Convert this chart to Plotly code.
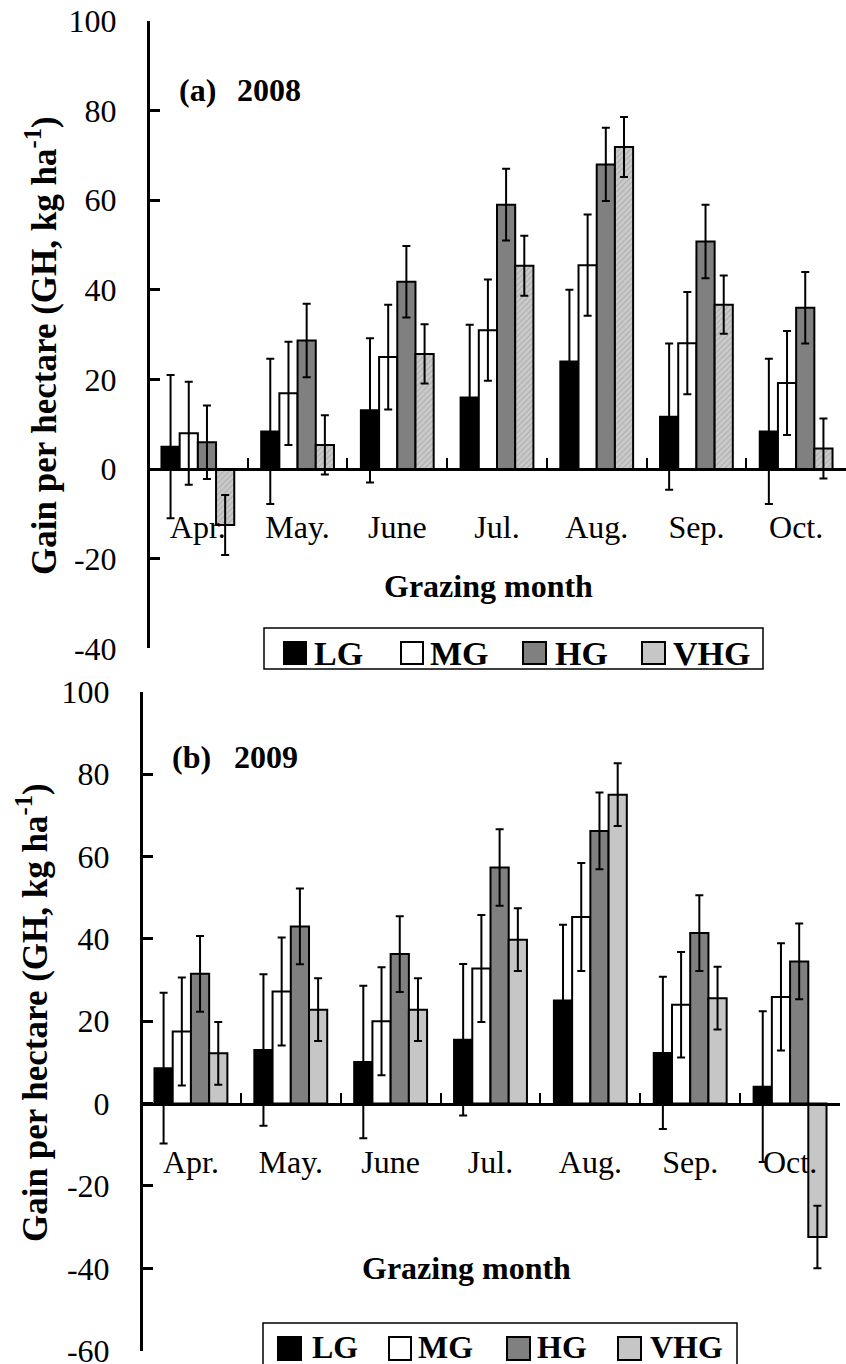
import plotly.graph_objects as go

W, H = 846, 1364

months = ["Apr.", "May.", "June", "Jul.", "Aug.", "Sep.", "Oct."]
series = ["LG", "MG", "HG", "VHG"]

# ---- (a) 2008 ----
lg_2008 = [5.0, 8.4, 13.1, 16.0, 24.0, 11.7, 8.4]
lg_2008_err = [16.0, 16.2, 16.1, 16.2, 16.0, 16.3, 16.2]
mg_2008 = [8.0, 16.9, 25.0, 31.0, 45.5, 28.1, 19.2]
mg_2008_err = [11.5, 11.5, 11.7, 11.3, 11.3, 11.4, 11.6]
hg_2008 = [6.0, 28.7, 41.8, 59.0, 68.0, 50.8, 36.0]
hg_2008_err = [8.2, 8.2, 8.0, 8.0, 8.2, 8.2, 8.0]
vhg_2008 = [-12.5, 5.4, 25.7, 45.4, 71.9, 36.7, 4.6]
vhg_2008_err = [6.7, 6.6, 6.6, 6.7, 6.7, 6.5, 6.7]

# ---- (b) 2009 ----
lg_2009 = [8.6, 13.0, 10.1, 15.5, 25.0, 12.3, 4.1]
lg_2009_err = [18.3, 18.4, 18.5, 18.4, 18.4, 18.5, 18.3]
mg_2009 = [17.5, 27.2, 20.0, 32.8, 45.3, 24.0, 25.9]
mg_2009_err = [13.1, 13.1, 13.1, 13.0, 13.1, 12.8, 13.0]
hg_2009 = [31.5, 43.0, 36.3, 57.3, 66.2, 41.4, 34.5]
hg_2009_err = [9.2, 9.2, 9.2, 9.3, 9.3, 9.2, 9.2]
vhg_2009 = [12.2, 22.8, 22.8, 39.8, 75.0, 25.6, -32.4]
vhg_2009_err = [7.6, 7.6, 7.6, 7.6, 7.6, 7.6, 7.6]

y_ticks_a = [-40, -20, 0, 20, 40, 60, 80, 100]
y_ticks_b = [-60, -40, -20, 0, 20, 40, 60, 80, 100]
y_labels_a = [str(v) for v in y_ticks_a]   # plain hyphen-minus like the original
y_labels_b = [str(v) for v in y_ticks_b]

FONT = "Liberation Serif, Times New Roman, Times, DejaVu Serif, serif"

def px(x):
    return x / W

def py(y):
    return 1 - y / H

fig = go.Figure()

styles = {
    "LG": dict(color="black"),
    "MG": dict(color="white"),
    "HG": dict(color="#808080"),
    "VHG": dict(color="#c6c6c6"),
}

panel_a = [(lg_2008, lg_2008_err), (mg_2008, mg_2008_err), (hg_2008, hg_2008_err), (vhg_2008, vhg_2008_err)]
panel_b = [(lg_2009, lg_2009_err), (mg_2009, mg_2009_err), (hg_2009, hg_2009_err), (vhg_2009, vhg_2009_err)]

for axes, data, hatch in [(("x", "y"), panel_a, True), (("x2", "y2"), panel_b, False)]:
    for name, (vals, errs) in zip(series, data):
        marker = dict(color=styles[name]["color"], line=dict(color="black", width=2))
        if name == "VHG" and hatch:
            marker["pattern"] = dict(shape="/", fgcolor="#aaaaaa", bgcolor="#cacaca",
                                     size=4, solidity=0.25, fillmode="replace")
        fig.add_trace(go.Bar(
            x=months, y=vals, name=name, xaxis=axes[0], yaxis=axes[1],
            marker=marker, showlegend=False,
            error_y=dict(type="data", array=errs, visible=True, color="black",
                         thickness=2, width=4),
        ))

# panel geometry (pixels)
top_dom = (21, 648.3)      # y pixel of 100 and -40
bot_dom = (691.7, 1350.7)  # y pixel of 100 and -60
top_x = (148, 846)
bot_x = (141, 840)

ya_dom = [py(top_dom[1]), py(top_dom[0])]
yb_dom = [py(bot_dom[1]), py(bot_dom[0])]

def zero_pos(dom, lo, hi):
    return dom[0] + (0 - lo) / (hi - lo) * (dom[1] - dom[0])

axis_common_x = dict(
    type="category", categoryorder="array", categoryarray=months,
    showline=True, linecolor="black", linewidth=3,
    ticks="inside", tickson="boundaries", ticklen=10, tickwidth=2, tickcolor="black",
    tickfont=dict(family=FONT, size=32, color="black"),
    ticklabelstandoff=29, showgrid=False, zeroline=False, anchor="free",
    automargin=False, ticklabeloverflow="allow",
)
axis_common_y = dict(
    showline=True, linecolor="black", linewidth=3,
    ticks="inside", ticklen=10, tickwidth=3, tickcolor="black",
    tickfont=dict(family=FONT, size=32, color="black"),
    ticklabelstandoff=24, showgrid=False, zeroline=False, anchor="free",
    automargin=False, ticklabeloverflow="allow",
)

fig.update_layout(
    template="none",
    width=W, height=H,
    margin=dict(l=0, r=0, t=0, b=0, pad=0, autoexpand=False),
    paper_bgcolor="white", plot_bgcolor="white",
    font=dict(family=FONT, color="black"),
    barmode="group", bargap=0.27, bargroupgap=0,
    xaxis=dict(axis_common_x, domain=[px(top_x[0]), px(top_x[1])],
               position=zero_pos(ya_dom, -40, 100)),
    yaxis=dict(axis_common_y, domain=ya_dom, range=[-40, 100],
               tickvals=y_ticks_a, ticktext=y_labels_a, position=px(top_x[0])),
    xaxis2=dict(axis_common_x, domain=[px(bot_x[0]), px(bot_x[1])],
                position=zero_pos(yb_dom, -60, 100)),
    yaxis2=dict(axis_common_y, domain=yb_dom, range=[-60, 100],
                tickvals=y_ticks_b, ticktext=y_labels_b, position=px(bot_x[0])),
)

ann = []
shapes = []

def text(x, y, s, size=32, bold=True, xanchor="center", angle=0):
    ann.append(dict(x=px(x), y=py(y), xref="paper", yref="paper", text=s, showarrow=False,
                    xanchor=xanchor, yanchor="middle", textangle=angle,
                    font=dict(family=FONT, size=size, color="black",
                              weight="bold" if bold else "normal")))

ytitle = "Gain per hectare (GH, kg ha<sup>-1</sup>)"
text(41, 346, ytitle, size=35, angle=-90)
text(32, 1013, ytitle, size=35, angle=-90)
text(177, 90, "(a)", xanchor="left")
text(235, 90, "2008", xanchor="left")
text(170, 757, "(b)", xanchor="left")
text(232, 757, "2009", xanchor="left")
text(488, 586, "Grazing month")
text(467, 1268, "Grazing month")

# custom legends
colors = [styles[s]["color"] for s in series]

def legend(box, sq_x, txt_x, sq_y, ty, size):
    shapes.append(dict(type="rect", xref="paper", yref="paper",
                       x0=px(box[0]), x1=px(box[1]), y0=py(box[3]), y1=py(box[2]),
                       line=dict(color="black", width=1.5), fillcolor="white", layer="above"))
    for name, c, (a, b), tx in zip(series, colors, sq_x, txt_x):
        shapes.append(dict(type="rect", xref="paper", yref="paper",
                           x0=px(a), x1=px(b), y0=py(sq_y[1]), y1=py(sq_y[0]),
                           line=dict(color="black", width=2), fillcolor=c, layer="above"))
        text(tx, ty, name, size=size, xanchor="left")

legend((264, 763, 628, 669), [(284, 306), (401, 423), (523, 546), (642, 665)],
       [312, 428, 553, 671], (642, 664), 653, 34)
legend((263, 737, 1323, 1372), [(278, 301), (389, 411), (507, 530), (618, 641)],
       [310, 416, 535, 648], (1337, 1360), 1347, 32)

fig.update_layout(annotations=ann, shapes=shapes)

fig.write_html("out.html")
